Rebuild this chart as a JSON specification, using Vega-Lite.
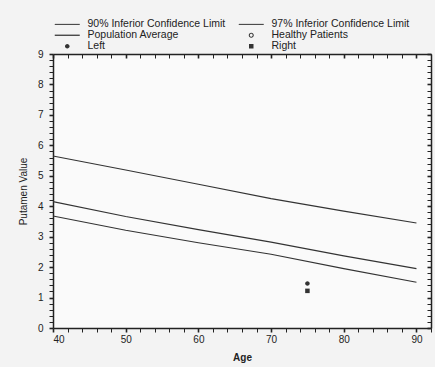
{
  "$schema": "https://vega.github.io/schema/vega-lite/v6.json",
  "autosize": {"type": "none"},
  "width": 378,
  "height": 274,
  "padding": {"left": 53, "top": 54, "right": 4, "bottom": 39},
  "background": "#f3f3f3",
  "config": {
    "view": {"stroke": null, "fill": "#fafafa"},
    "font": "Liberation Sans",
    "axis": {"labelFont": "Liberation Sans", "titleFont": "Liberation Sans", "labelColor": "#222", "titleColor": "#222", "domainColor": "#222", "tickColor": "#222", "domainWidth": 1.5, "tickWidth": 1, "grid": false, "labelOverlap": false, "labelFontSize": 10, "titleFontSize": 10}
  },
  "resolve": {"axis": {"x": "independent", "y": "independent"}},
  "layer": [
    {
      "data": {"values": [
        {"age": 40, "value": 5.65, "series": "Population Average"},
        {"age": 50, "value": 5.19, "series": "Population Average"},
        {"age": 60, "value": 4.72, "series": "Population Average"},
        {"age": 70, "value": 4.25, "series": "Population Average"},
        {"age": 80, "value": 3.84, "series": "Population Average"},
        {"age": 90, "value": 3.45, "series": "Population Average"},
        {"age": 40, "value": 4.15, "series": "90% Inferior Confidence Limit"},
        {"age": 50, "value": 3.66, "series": "90% Inferior Confidence Limit"},
        {"age": 60, "value": 3.23, "series": "90% Inferior Confidence Limit"},
        {"age": 70, "value": 2.82, "series": "90% Inferior Confidence Limit"},
        {"age": 80, "value": 2.37, "series": "90% Inferior Confidence Limit"},
        {"age": 90, "value": 1.95, "series": "90% Inferior Confidence Limit"},
        {"age": 40, "value": 3.68, "series": "97% Inferior Confidence Limit"},
        {"age": 50, "value": 3.21, "series": "97% Inferior Confidence Limit"},
        {"age": 60, "value": 2.8, "series": "97% Inferior Confidence Limit"},
        {"age": 70, "value": 2.42, "series": "97% Inferior Confidence Limit"},
        {"age": 80, "value": 1.95, "series": "97% Inferior Confidence Limit"},
        {"age": 90, "value": 1.5, "series": "97% Inferior Confidence Limit"}
      ]},
      "mark": {"type": "line", "color": "#333", "strokeWidth": 1.1},
      "encoding": {
        "x": {"field": "age", "type": "quantitative", "scale": {"domain": [40, 92], "nice": false, "zero": false},
          "axis": {"orient": "bottom", "title": "Age", "titleFontWeight": "bold", "titlePadding": 8, "labelPadding": 2, "tickSize": 4,
            "values": [40,42,44,46,48,50,52,54,56,58,60,62,64,66,68,70,72,74,76,78,80,82,84,86,88,90,92],
            "labelExpr": "datum.value % 10 === 0 ? datum.label : ''",
            "tickWidth": {"condition": {"test": "datum.value % 10 === 0", "value": 1.6}, "value": 1}}},
        "y": {"field": "value", "type": "quantitative", "scale": {"domain": [0, 9], "nice": false},
          "axis": {"orient": "left", "title": "Putamen Value", "titleFontWeight": "normal", "titlePadding": 9, "labelPadding": 6, "tickSize": 4, "format": ".0f",
            "values": [0,0.2,0.4,0.6,0.8,1,1.2,1.4,1.6,1.8,2,2.2,2.4,2.6,2.8,3,3.2,3.4,3.6,3.8,4,4.2,4.4,4.6,4.8,5,5.2,5.4,5.6,5.8,6,6.2,6.4,6.6,6.8,7,7.2,7.4,7.6,7.8,8,8.2,8.4,8.6,8.8,9],
            "labelExpr": "datum.value % 1 === 0 ? datum.label : ''",
            "tickWidth": {"condition": {"test": "datum.value % 1 === 0", "value": 1.6}, "value": 1}}},
        "detail": {"field": "series"}
      }
    },
    {
      "data": {"values": [
        {"age": 75, "value": 1.46, "series": "Left"},
        {"age": 75, "value": 1.22, "series": "Right"}
      ]},
      "mark": {"type": "point", "filled": true, "color": "#333", "size": 25, "opacity": 1, "strokeWidth": 0},
      "encoding": {
        "x": {"field": "age", "type": "quantitative",
          "axis": {"orient": "top", "title": null, "labels": false, "tickSize": -4,
            "values": [40,42,44,46,48,50,52,54,56,58,60,62,64,66,68,70,72,74,76,78,80,82,84,86,88,90,92],
            "tickWidth": {"condition": {"test": "datum.value % 10 === 0", "value": 1.6}, "value": 1}}},
        "y": {"field": "value", "type": "quantitative",
          "axis": {"orient": "right", "title": null, "labels": false, "tickSize": -4,
            "values": [0,0.2,0.4,0.6,0.8,1,1.2,1.4,1.6,1.8,2,2.2,2.4,2.6,2.8,3,3.2,3.4,3.6,3.8,4,4.2,4.4,4.6,4.8,5,5.2,5.4,5.6,5.8,6,6.2,6.4,6.6,6.8,7,7.2,7.4,7.6,7.8,8,8.2,8.4,8.6,8.8,9],
            "tickWidth": {"condition": {"test": "datum.value % 1 === 0", "value": 1.6}, "value": 1}}},
        "shape": {"field": "series", "type": "nominal",
          "scale": {
            "domain": ["90% Inferior Confidence Limit", "97% Inferior Confidence Limit", "Population Average", "Healthy Patients", "Left", "Right"],
            "range": ["M-5,-0.2H5V0.2H-5Z", "M-5,-0.2H5V0.2H-5Z", "M-5,-0.25H5V0.25H-5Z", "M0,-1A1,1,0,1,1,0,1A1,1,0,1,1,0,-1ZM0,-0.6A0.6,0.6,0,1,0,0,0.6A0.6,0.6,0,1,0,0,-0.6Z", "M0,-0.9A0.9,0.9,0,1,1,0,0.9A0.9,0.9,0,1,1,0,-0.9Z", "M-0.9,-0.9H0.9V0.9H-0.9Z"]
          },
          "legend": {"orient": "none", "legendX": 9, "legendY": -35, "direction": "horizontal", "columns": 2, "columnPadding": 12, "rowPadding": -0.5,
            "labelOffset": 15, "symbolSize": 25, "symbolStrokeWidth": 0, "symbolFillColor": "#222", "symbolOpacity": 1,
            "labelFontSize": 10.5, "labelFont": "Liberation Sans", "labelColor": "#222", "title": null, "padding": 0, "gridAlign": "each", "labelLimit": 300}
        }
      }
    }
  ]
}
